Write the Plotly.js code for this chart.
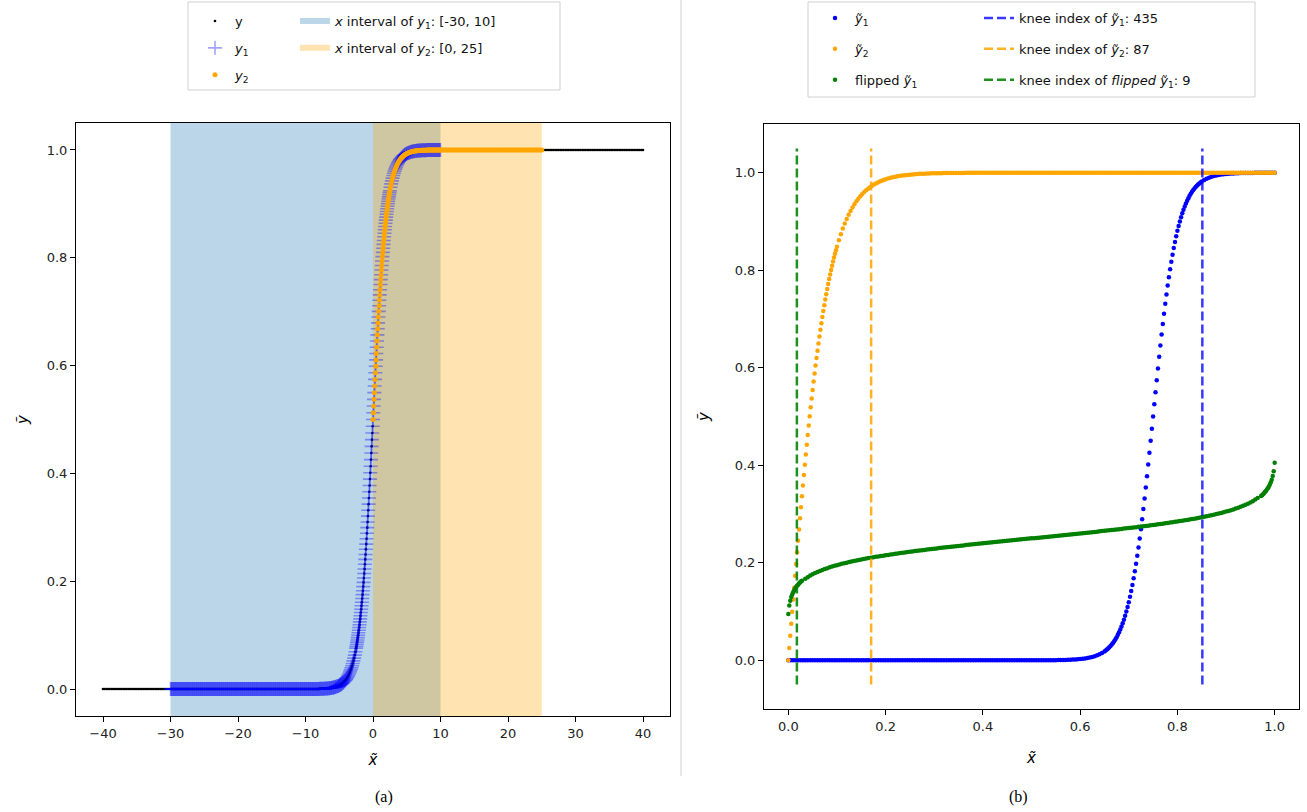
<!DOCTYPE html>
<html><head><meta charset="utf-8">
<script src="https://cdn.plot.ly/plotly-3.0.1.min.js"></script>
<style>html,body{margin:0;padding:0;background:#fff}</style>
</head><body><div id="chart" style="width:1307px;height:812px"></div>
<script>
// ---------- (a) left panel data ----------
const xLeft = [
-40,-39.75,-39.5,-39.25,-39,-38.75,-38.5,-38.25,
-38,-37.75,-37.5,-37.25,-37,-36.75,-36.5,-36.25,
-36,-35.75,-35.5,-35.25,-35,-34.75,-34.5,-34.25,
-34,-33.75,-33.5,-33.25,-33,-32.75,-32.5,-32.25,
-32,-31.75,-31.5,-31.25,-31,-30.75,-30.5,-30.25,
-30,
-29.9,-29.8,-29.7,-29.6,-29.5,-29.4,-29.3,-29.2,-29.1,-29,
-28.9,-28.8,-28.7,-28.6,-28.5,-28.4,-28.3,-28.2,-28.1,-28,
-27.9,-27.8,-27.7,-27.6,-27.5,-27.4,-27.3,-27.2,-27.1,-27,
-26.9,-26.8,-26.7,-26.6,-26.5,-26.4,-26.3,-26.2,-26.1,-26,
-25.9,-25.8,-25.7,-25.6,-25.5,-25.4,-25.3,-25.2,-25.1,-25,
-24.9,-24.8,-24.7,-24.6,-24.5,-24.4,-24.3,-24.2,-24.1,-24,
-23.9,-23.8,-23.7,-23.6,-23.5,-23.4,-23.3,-23.2,-23.1,-23,
-22.9,-22.8,-22.7,-22.6,-22.5,-22.4,-22.3,-22.2,-22.1,-22,
-21.9,-21.8,-21.7,-21.6,-21.5,-21.4,-21.3,-21.2,-21.1,-21,
-20.9,-20.8,-20.7,-20.6,-20.5,-20.4,-20.3,-20.2,-20.1,-20,
-19.9,-19.8,-19.7,-19.6,-19.5,-19.4,-19.3,-19.2,-19.1,-19,
-18.9,-18.8,-18.7,-18.6,-18.5,-18.4,-18.3,-18.2,-18.1,-18,
-17.9,-17.8,-17.7,-17.6,-17.5,-17.4,-17.3,-17.2,-17.1,-17,
-16.9,-16.8,-16.7,-16.6,-16.5,-16.4,-16.3,-16.2,-16.1,-16,
-15.9,-15.8,-15.7,-15.6,-15.5,-15.4,-15.3,-15.2,-15.1,-15,
-14.9,-14.8,-14.7,-14.6,-14.5,-14.4,-14.3,-14.2,-14.1,-14,
-13.9,-13.8,-13.7,-13.6,-13.5,-13.4,-13.3,-13.2,-13.1,-13,
-12.9,-12.8,-12.7,-12.6,-12.5,-12.4,-12.3,-12.2,-12.1,-12,
-11.9,-11.8,-11.7,-11.6,-11.5,-11.4,-11.3,-11.2,-11.1,-11,
-10.9,-10.8,-10.7,-10.6,-10.5,-10.4,-10.3,-10.2,-10.1,-10,
-9.9,-9.8,-9.7,-9.6,-9.5,-9.4,-9.3,-9.2,-9.1,-9,
-8.9,-8.8,-8.7,-8.6,-8.5,-8.4,-8.3,-8.2,-8.1,-8,
-7.9,-7.8,-7.7,-7.6,-7.5,-7.4,-7.3,-7.2,-7.1,-7,
-6.9,-6.8,-6.7,-6.6,-6.5,-6.4,-6.3,-6.2,-6.1,-6,
-5.9,-5.8,-5.7,-5.6,-5.5,-5.4,-5.3,-5.2,-5.1,-5,
-4.9,-4.8,-4.7,-4.6,-4.5,-4.4,-4.3,-4.2,-4.1,
-4,-3.9,-3.8,-3.7,-3.6,-3.5,-3.4,-3.3,-3.2,-3.1,-3,-2.9,-2.8,-2.7,-2.6,
-2.5,-2.45,-2.4,-2.35,-2.3,-2.25,-2.2,-2.15,-2.1,-2.05,
-2,-1.95,-1.9,-1.85,-1.8,-1.75,-1.7,-1.65,-1.6,-1.55,
-1.5,-1.45,-1.4,-1.35,-1.3,-1.25,-1.2,-1.15,-1.1,-1.05,
-1,-0.95,-0.9,-0.85,-0.8,-0.75,-0.7,-0.65,-0.6,-0.55,
-0.5,-0.45,-0.4,-0.35,-0.3,-0.25,-0.2,-0.15,-0.1,-0.05,
0,0.05,0.1,0.15,0.2,0.25,0.3,0.35,0.4,0.45,
0.5,0.55,0.6,0.65,0.7,0.75,0.8,0.85,0.9,0.95,
1,1.05,1.1,1.15,1.2,1.25,1.3,1.35,1.4,1.45,
1.5,1.55,1.6,1.65,1.7,1.75,1.8,1.85,1.9,1.95,
2,2.05,2.1,2.15,2.2,2.25,2.3,2.35,2.4,2.45,
2.5,
2.6,2.7,2.8,2.9,3,3.1,3.2,3.3,3.4,3.5,3.6,3.7,3.8,3.9,4,
4.1,4.2,4.3,4.4,4.5,4.6,4.7,4.8,4.9,5,
5.1,5.2,5.3,5.4,5.5,5.6,5.7,5.8,5.9,6,
6.1,6.2,6.3,6.4,6.5,6.6,6.7,6.8,6.9,7,
7.1,7.2,7.3,7.4,7.5,7.6,7.7,7.8,7.9,8,
8.1,8.2,8.3,8.4,8.5,8.6,8.7,8.8,8.9,9,
9.1,9.2,9.3,9.4,9.5,9.6,9.7,9.8,9.9,10,
10.25,10.5,10.75,11,11.25,11.5,11.75,12,
12.25,12.5,12.75,13,13.25,13.5,13.75,14,
14.25,14.5,14.75,15,15.25,15.5,15.75,16,
16.25,16.5,16.75,17,17.25,17.5,17.75,18,
18.25,18.5,18.75,19,19.25,19.5,19.75,20,
20.25,20.5,20.75,21,21.25,21.5,21.75,22,
22.25,22.5,22.75,23,23.25,23.5,23.75,24,
24.25,24.5,24.75,25,25.25,25.5,25.75,26,
26.25,26.5,26.75,27,27.25,27.5,27.75,28,
28.25,28.5,28.75,29,29.25,29.5,29.75,30,
30.25,30.5,30.75,31,31.25,31.5,31.75,32,
32.25,32.5,32.75,33,33.25,33.5,33.75,34,
34.25,34.5,34.75,35,35.25,35.5,35.75,36,
36.25,36.5,36.75,37,37.25,37.5,37.75,38,
38.25,38.5,38.75,39,39.25,39.5,39.75,40
];
const yLeft = [
0,0,0,0,0,0,0,0, 0,0,0,0,0,0,0,0, 0,0,0,0,0,0,0,0, 0,0,0,0,0,0,0,0, 0,0,0,0,0,0,0,0,
0,
0,0,0,0,0,0,0,0,0,0, 0,0,0,0,0,0,0,0,0,0, 0,0,0,0,0,0,0,0,0,0, 0,0,0,0,0,0,0,0,0,0,
0,0,0,0,0,0,0,0,0,0, 0,0,0,0,0,0,0,0,0,0, 0,0,0,0,0,0,0,0,0,0, 0,0,0,0,0,0,0,0,0,0,
0,0,0,0,0,0,0,0,0,0, 0,0,0,0,0,0,0,0,0,0, 0,0,0,0,0,0,0,0,0,0, 0,0,0,0,0,0,0,0,0,0,
0,0,0,0,0,0,0,0,0,0, 0,0,0,0,0,0,0,0,0,0, 0,0,0,0,0,0,0,0,0,0, 0,0,0,0,0,0,0,0,0,0,
0,0,0,0,0,0,0,0,0,0, 0,0,0,0,0,0,0,0,0,0, 0,0,0,0,0,0,0,0,0,0, 0,0,0,0,0,0,0,0,0,0,
0,0,0,0,0,0,0,0,0,0, 0,0,0,0,0,0,0,0,0,0,
0.0004,0.0004,0.0005,0.0005,0.0006,0.0006,0.0007,0.0007,0.0008,0.0009,
0.0010,0.0011,0.0012,0.0014,0.0015,0.0017,0.0018,0.0020,0.0022,0.0025,
0.0027,0.0030,0.0033,0.0037,0.0041,0.0045,0.0050,0.0055,0.0061,0.0067,
0.0074,0.0082,0.0090,0.0100,0.0110,0.0121,0.0134,0.0148,0.0163,
0.0180,0.0198,0.0219,0.0241,0.0266,0.0293,0.0323,0.0356,0.0392,0.0431,0.0474,0.0522,0.0573,0.0630,0.0691,
0.0759,0.0794,0.0832,0.0871,0.0911,0.0953,0.0998,0.1043,0.1091,0.1141,
0.1192,0.1246,0.1301,0.1359,0.1419,0.1480,0.1545,0.1611,0.1680,0.1751,
0.1824,0.1900,0.1978,0.2059,0.2142,0.2227,0.2315,0.2405,0.2497,0.2592,
0.2689,0.2789,0.2891,0.2994,0.3100,0.3208,0.3318,0.3430,0.3543,0.3659,
0.3775,0.3894,0.4013,0.4134,0.4256,0.4378,0.4502,0.4626,0.4750,0.4875,
0.5,0.5125,0.5250,0.5374,0.5498,0.5622,0.5744,0.5866,0.5987,0.6106,
0.6225,0.6341,0.6457,0.6570,0.6682,0.6792,0.6900,0.7006,0.7109,0.7211,
0.7311,0.7408,0.7503,0.7595,0.7685,0.7773,0.7858,0.7941,0.8022,0.8100,
0.8176,0.8249,0.8320,0.8389,0.8455,0.8520,0.8581,0.8641,0.8699,0.8754,
0.8808,0.8859,0.8909,0.8957,0.9002,0.9047,0.9089,0.9129,0.9168,0.9206,
0.9241,
0.9309,0.9370,0.9427,0.9478,0.9526,0.9569,0.9608,0.9644,0.9677,0.9707,0.9734,0.9759,0.9781,0.9802,0.9820,
0.9837,0.9852,0.9866,0.9879,0.9890,0.9900,0.9910,0.9918,0.9926,0.9933,
0.9939,0.9945,0.9950,0.9955,0.9959,0.9963,0.9967,0.9970,0.9973,0.9975,
0.9978,0.9980,0.9982,0.9983,0.9985,0.9986,0.9988,0.9989,0.9990,0.9991,
0.9992,0.9993,0.9993,0.9994,0.9994,0.9995,0.9995,0.9996,0.9996,0.9997,
1,1,1,1,1,1,1,1,1,1, 1,1,1,1,1,1,1,1,1,1,
1,1,1,1,1,1,1,1, 1,1,1,1,1,1,1,1, 1,1,1,1,1,1,1,1, 1,1,1,1,1,1,1,1, 1,1,1,1,1,1,1,1,
1,1,1,1,1,1,1,1, 1,1,1,1,1,1,1,1, 1,1,1,1,1,1,1,1, 1,1,1,1,1,1,1,1, 1,1,1,1,1,1,1,1,
1,1,1,1,1,1,1,1, 1,1,1,1,1,1,1,1, 1,1,1,1,1,1,1,1, 1,1,1,1,1,1,1,1, 1,1,1,1,1,1,1,1
];
const interval1 = [-30, 10];
const interval2 = [0, 25];
const yRangeLeft = [-0.05, 1.05];

// ---------- (b) right panel data ----------
const xBlue = [
0,0.005,0.01,0.015,0.02,0.025,0.03,0.035,0.04,0.045,
0.05,0.055,0.06,0.065,0.07,0.075,0.08,0.085,0.09,0.095,
0.1,0.105,0.11,0.115,0.12,0.125,0.13,0.135,0.14,0.145,
0.15,0.155,0.16,0.165,0.17,0.175,0.18,0.185,0.19,0.195,
0.2,0.205,0.21,0.215,0.22,0.225,0.23,0.235,0.24,0.245,
0.25,0.255,0.26,0.265,0.27,0.275,0.28,0.285,0.29,0.295,
0.3,0.305,0.31,0.315,0.32,0.325,0.33,0.335,0.34,0.345,
0.35,0.355,0.36,0.365,0.37,0.375,0.38,0.385,0.39,0.395,
0.4,0.405,0.41,0.415,0.42,0.425,0.43,0.435,0.44,0.445,
0.45,0.455,0.46,0.465,0.47,0.475,0.48,0.485,0.49,0.495,
0.5,0.505,0.51,0.515,0.52,0.525,0.53,0.535,0.54,0.545,
0.55,0.555,0.56,0.565,0.57,0.575,0.58,0.585,0.59,0.595,
0.6,0.605,0.61,0.615,0.62,0.625,0.63,0.635,0.64,0.645,
0.65,0.6525,0.655,0.6575,0.66,0.6625,0.665,0.6675,
0.67,0.6725,0.675,0.6775,0.68,0.6825,0.685,0.6875,
0.69,0.6925,0.695,0.6975,0.7,0.7025,0.705,0.7075,
0.71,0.7125,0.715,0.7175,0.72,0.7225,0.725,0.7275,
0.73,0.7325,0.735,0.7375,0.74,0.7425,0.745,0.7475,
0.75,0.7525,0.755,0.7575,0.76,0.7625,0.765,0.7675,
0.77,0.7725,0.775,0.7775,0.78,0.7825,0.785,0.7875,
0.79,0.7925,0.795,0.7975,0.8,0.8025,0.805,0.8075,
0.81,0.8125,0.815,0.8175,0.82,0.8225,0.825,0.8275,
0.83,0.8325,0.835,0.8375,0.84,0.8425,0.845,0.8475,
0.85,
0.855,0.86,0.865,0.87,0.875,0.88,0.885,0.89,0.895,0.9,
0.905,0.91,0.915,0.92,0.925,0.93,0.935,0.94,0.945,0.95,
0.955,0.96,0.965,0.97,0.975,0.98,0.985,0.99,0.995,1
];
const yBlue = [
0,0,0,0,0,0,0,0,0,0, 0,0,0,0,0,0,0,0,0,0, 0,0,0,0,0,0,0,0,0,0,
0,0,0,0,0,0,0,0,0,0, 0,0,0,0,0,0,0,0,0,0, 0,0,0,0,0,0,0,0,0,0,
0,0,0,0,0,0,0,0,0,0, 0,0,0,0,0,0,0,0,0,0, 0,0,0,0,0,0,0,0,0,0,
0,0,0,0,0,0,0,0,0,0, 0,0,0,0,0,0,0,0,0,0,
0,0.0004,0.0005,0.0006,0.0007,0.0009,0.0011,0.0014,0.0017,0.0020,
0.0025,0.0030,0.0037,0.0045,0.0055,0.0067,0.0082,0.0100,0.0121,0.0148,
0.0180,0.0198,0.0219,0.0241,0.0266,0.0293,0.0323,0.0356,
0.0392,0.0431,0.0474,0.0522,0.0573,0.0630,0.0691,0.0759,
0.0832,0.0911,0.0998,0.1091,0.1192,0.1301,0.1419,0.1545,
0.1680,0.1824,0.1978,0.2142,0.2315,0.2497,0.2689,0.2891,
0.3100,0.3318,0.3543,0.3775,0.4013,0.4256,0.4502,0.4750,
0.5,0.5250,0.5498,0.5744,0.5987,0.6225,0.6457,0.6682,
0.6900,0.7109,0.7311,0.7503,0.7685,0.7858,0.8022,0.8176,
0.8320,0.8455,0.8581,0.8699,0.8808,0.8909,0.9002,0.9089,
0.9168,0.9241,0.9309,0.9370,0.9427,0.9478,0.9526,0.9569,
0.9608,0.9644,0.9677,0.9707,0.9734,0.9759,0.9781,0.9802,
0.9820,
0.9852,0.9879,0.9900,0.9918,0.9933,0.9945,0.9955,0.9963,0.9970,0.9975,
0.9980,0.9983,0.9986,0.9989,0.9991,0.9993,0.9994,0.9995,0.9996,0.9997,
0.9997,0.9998,0.9998,0.9998,0.9999,0.9999,0.9999,0.9999,0.9999,1
];
const xOrange = [
0,0.002,0.004,0.006,0.008,0.01,0.012,0.014,0.016,0.018,
0.02,0.022,0.024,0.026,0.028,0.03,0.032,0.034,0.036,0.038,
0.04,0.042,0.044,0.046,0.048,0.05,0.052,0.054,0.056,0.058,
0.06,0.062,0.064,0.066,0.068,0.07,0.072,0.074,0.076,0.078,
0.08,0.082,0.084,0.086,0.088,0.09,0.092,0.094,0.096,0.098,
0.1,
0.104,0.108,0.112,0.116,0.12,0.124,0.128,0.132,0.136,0.14,
0.144,0.148,0.152,0.156,0.16,0.164,0.168,0.172,0.176,0.18,
0.184,0.188,0.192,0.196,0.2,
0.205,0.21,0.215,0.22,0.225,0.23,0.235,0.24,0.245,0.25,
0.255,0.26,0.265,0.27,0.275,0.28,0.285,0.29,0.295,0.3,
0.305,0.31,0.315,0.32,0.325,0.33,0.335,0.34,0.345,0.35,
0.355,0.36,0.365,0.37,0.375,0.38,0.385,0.39,0.395,0.4,
0.405,0.41,0.415,0.42,0.425,0.43,0.435,0.44,0.445,0.45,
0.455,0.46,0.465,0.47,0.475,0.48,0.485,0.49,0.495,0.5,
0.505,0.51,0.515,0.52,0.525,0.53,0.535,0.54,0.545,0.55,
0.555,0.56,0.565,0.57,0.575,0.58,0.585,0.59,0.595,0.6,
0.605,0.61,0.615,0.62,0.625,0.63,0.635,0.64,0.645,0.65,
0.655,0.66,0.665,0.67,0.675,0.68,0.685,0.69,0.695,0.7,
0.705,0.71,0.715,0.72,0.725,0.73,0.735,0.74,0.745,0.75,
0.755,0.76,0.765,0.77,0.775,0.78,0.785,0.79,0.795,0.8,
0.805,0.81,0.815,0.82,0.825,0.83,0.835,0.84,0.845,0.85,
0.855,0.86,0.865,0.87,0.875,0.88,0.885,0.89,0.895,0.9,
0.905,0.91,0.915,0.92,0.925,0.93,0.935,0.94,0.945,0.95,
0.955,0.96,0.965,0.97,0.975,0.98,0.985,0.99,0.995,1
];
const yOrange = [
0,0.0250,0.0500,0.0749,0.0997,0.1244,0.1489,0.1732,0.1974,0.2213,
0.2449,0.2683,0.2913,0.3140,0.3364,0.3584,0.3799,0.4011,0.4219,0.4422,
0.4621,0.4816,0.5005,0.5190,0.5371,0.5546,0.5717,0.5883,0.6044,0.6200,
0.6351,0.6498,0.6640,0.6778,0.6911,0.7039,0.7163,0.7283,0.7398,0.7509,
0.7616,0.7719,0.7818,0.7913,0.8005,0.8093,0.8178,0.8259,0.8337,0.8411,
0.8483,
0.8617,0.8741,0.8854,0.8957,0.9051,0.9138,0.9217,0.9289,0.9354,0.9414,
0.9468,0.9517,0.9562,0.9603,0.9640,0.9674,0.9705,0.9732,0.9757,0.9780,
0.9801,0.9820,0.9837,0.9852,0.9866,
0.9882,0.9896,0.9908,0.9919,0.9928,0.9937,0.9944,0.9951,0.9956,0.9961,
0.9966,0.9970,0.9973,0.9977,0.9979,0.9982,0.9984,0.9986,0.9988,0.9989,
0.9990,0.9991,0.9992,0.9993,0.9994,0.9995,0.9995,0.9996,0.9996,0.9997,
0.9997,0.9997,0.9998,0.9998,0.9998,0.9998,0.9999,0.9999,0.9999,0.9999,
1,1,1,1,1,1,1,1,1,1, 1,1,1,1,1,1,1,1,1,1, 1,1,1,1,1,1,1,1,1,1,
1,1,1,1,1,1,1,1,1,1, 1,1,1,1,1,1,1,1,1,1, 1,1,1,1,1,1,1,1,1,1,
1,1,1,1,1,1,1,1,1,1, 1,1,1,1,1,1,1,1,1,1, 1,1,1,1,1,1,1,1,1,1,
1,1,1,1,1,1,1,1,1,1, 1,1,1,1,1,1,1,1,1,1, 1,1,1,1,1,1,1,1,1,1
];
const xGreen = [
0,0.002,0.004,0.006,0.008,0.01,0.012,0.014,0.016,0.018,0.02,0.022,0.024,0.026,0.028,
0.035,0.04,0.045,0.05,0.055,0.06,0.065,0.07,0.075,0.08,
0.085,0.09,0.095,0.1,0.105,0.11,0.115,0.12,0.125,0.13,
0.135,0.14,0.145,0.15,0.155,0.16,0.165,0.17,0.175,0.18,
0.185,0.19,0.195,0.2,0.205,0.21,0.215,0.22,0.225,0.23,
0.235,0.24,0.245,0.25,0.255,0.26,0.265,0.27,0.275,0.28,
0.285,0.29,0.295,0.3,0.305,0.31,0.315,0.32,0.325,0.33,
0.335,0.34,0.345,0.35,0.355,0.36,0.365,0.37,0.375,0.38,
0.385,0.39,0.395,0.4,0.405,0.41,0.415,0.42,0.425,0.43,
0.435,0.44,0.445,0.45,0.455,0.46,0.465,0.47,0.475,0.48,
0.485,0.49,0.495,0.5,0.505,0.51,0.515,0.52,0.525,0.53,
0.535,0.54,0.545,0.55,0.555,0.56,0.565,0.57,0.575,0.58,
0.585,0.59,0.595,0.6,0.605,0.61,0.615,0.62,0.625,0.63,
0.635,0.64,0.645,0.65,0.655,0.66,0.665,0.67,0.675,0.68,
0.685,0.69,0.695,0.7,0.705,0.71,0.715,0.72,0.725,0.73,
0.735,0.74,0.745,0.75,0.755,0.76,0.765,0.77,0.775,0.78,
0.785,0.79,0.795,0.8,0.805,0.81,0.815,0.82,0.825,0.83,
0.835,0.84,0.845,0.85,0.855,0.86,0.865,0.87,0.875,0.88,
0.885,0.89,0.895,0.9,0.905,0.91,0.915,0.92,0.925,0.93,
0.935,0.94,0.945,0.95,0.955,0.96,0.965,
0.972,0.974,0.976,0.978,0.98,0.982,0.984,0.986,0.988,0.99,0.992,0.994,0.996,0.998,1
];
const yGreen = [
0.0947,0.1121,0.1222,0.1295,0.1351,0.1397,0.1436,0.1470,0.1500,0.1527,0.1551,0.1574,0.1594,0.1613,0.1631,
0.1671,0.1705,0.1736,0.1764,0.1789,0.1812,0.1833,0.1853,0.1872,0.1889,
0.1906,0.1922,0.1937,0.1951,0.1964,0.1977,0.1990,0.2002,0.2014,0.2025,
0.2036,0.2046,0.2056,0.2066,0.2076,0.2085,0.2095,0.2104,0.2112,0.2121,
0.2129,0.2138,0.2146,0.2153,0.2161,0.2169,0.2176,0.2184,0.2191,0.2198,
0.2205,0.2212,0.2219,0.2225,0.2232,0.2239,0.2245,0.2251,0.2258,0.2264,
0.2270,0.2276,0.2282,0.2288,0.2294,0.2300,0.2306,0.2312,0.2317,0.2323,
0.2329,0.2334,0.2340,0.2345,0.2351,0.2356,0.2362,0.2367,0.2372,0.2378,
0.2383,0.2388,0.2393,0.2399,0.2404,0.2409,0.2414,0.2419,0.2424,0.2430,
0.2435,0.2440,0.2445,0.2450,0.2455,0.2460,0.2465,0.2470,0.2475,0.2480,
0.2485,0.2490,0.2495,0.2500,0.2505,0.2510,0.2515,0.2520,0.2525,0.2530,
0.2535,0.2540,0.2545,0.2550,0.2555,0.2560,0.2565,0.2570,0.2576,0.2581,
0.2586,0.2591,0.2596,0.2601,0.2607,0.2612,0.2617,0.2622,0.2628,0.2633,
0.2638,0.2644,0.2649,0.2655,0.2660,0.2666,0.2671,0.2677,0.2683,0.2688,
0.2694,0.2700,0.2706,0.2712,0.2718,0.2724,0.2730,0.2736,0.2742,0.2749,
0.2755,0.2761,0.2768,0.2775,0.2781,0.2788,0.2795,0.2802,0.2809,0.2816,
0.2824,0.2831,0.2839,0.2847,0.2854,0.2862,0.2871,0.2879,0.2888,0.2896,
0.2905,0.2915,0.2924,0.2934,0.2944,0.2954,0.2964,0.2975,0.2986,0.2998,
0.3010,0.3023,0.3036,0.3049,0.3063,0.3078,0.3094,0.3111,0.3128,0.3147,
0.3167,0.3188,0.3211,0.3236,0.3264,0.3295,0.3329,
0.3369,0.3387,0.3406,0.3426,0.3449,0.3473,0.3500,0.3530,0.3564,0.3603,0.3649,0.3705,0.3778,0.3879,0.4053
];
const kneeIdx = [435, 87, 9];
const nPoints = 512;
const kneeSeries = ['<i>ỹ</i><sub>1</sub>', '<i>ỹ</i><sub>2</sub>', '<i>flipped</i> <i>ỹ</i><sub>1</sub>'];
const kneeColors = ['rgba(0,0,255,0.78)', 'rgba(255,165,0,0.85)', 'rgba(0,128,0,0.88)'];
const vlineY = [-0.05, 1.05];
const yRangeRight = [-0.1, 1.1];

// ---------- build traces ----------
function inInt(iv){ const xs=[], ys=[]; xLeft.forEach((v,i)=>{ if(v>=iv[0] && v<=iv[1]){ xs.push(v); ys.push(yLeft[i]); } }); return [xs, ys]; }
const [x1, y1] = inInt(interval1);
const [x2, y2] = inInt(interval2);
function spanTrace(iv, color, label, grp){
  return {x:[iv[0],iv[0],iv[1],iv[1],iv[0]], y:[yRangeLeft[0],yRangeLeft[1],yRangeLeft[1],yRangeLeft[0],yRangeLeft[0]],
    type:'scatter', mode:'none', fill:'toself', fillcolor:color, name:label, legend:'legend2', legendgroup:grp,
    hoverinfo:'skip', xaxis:'x', yaxis:'y'};
}
const traces = [
  spanTrace(interval1, 'rgba(31,119,180,0.3)', '<i>x</i> interval of <i>y</i><sub>1</sub>: [' + interval1.join(', ') + ']', 's1'),
  spanTrace(interval2, 'rgba(255,165,0,0.3)', '<i>x</i> interval of <i>y</i><sub>2</sub>: [' + interval2.join(', ') + ']', 's2'),
  {x:xLeft, y:yLeft, type:'scatter', mode:'markers', name:'y', legend:'legend', legendgroup:'a',
   marker:{size:2.6, color:'#000'}, xaxis:'x', yaxis:'y'},
  {x:x1, y:y1, type:'scatter', mode:'markers', name:'<i>y</i><sub>1</sub>', legend:'legend', legendgroup:'b',
   marker:{symbol:'cross-thin', size:10, color:'rgba(0,0,255,0.36)', line:{width:1.6, color:'rgba(0,0,255,0.36)'}}, xaxis:'x', yaxis:'y'},
  {x:x2, y:y2, type:'scatter', mode:'markers', name:'<i>y</i><sub>2</sub>', legend:'legend', legendgroup:'c',
   marker:{size:5, color:'#ffa500'}, xaxis:'x', yaxis:'y'},
  {x:xBlue, y:yBlue, type:'scatter', mode:'markers', name:kneeSeries[0], legend:'legend3', legendgroup:'d',
   marker:{size:4.5, color:'#0000ff'}, xaxis:'x2', yaxis:'y2'},
  {x:xOrange, y:yOrange, type:'scatter', mode:'markers', name:kneeSeries[1], legend:'legend3', legendgroup:'e',
   marker:{size:4.5, color:'#ffa500'}, xaxis:'x2', yaxis:'y2'},
  {x:xGreen, y:yGreen, type:'scatter', mode:'markers', name:'flipped <i>ỹ</i><sub>1</sub>', legend:'legend3', legendgroup:'f',
   marker:{size:4.5, color:'#008000'}, xaxis:'x2', yaxis:'y2'}
];
kneeIdx.forEach((k,i)=>{
  const xv = k/(nPoints-1);
  traces.push({x:[xv,xv], y:vlineY, type:'scatter', mode:'lines', name:'knee index of ' + kneeSeries[i] + ': ' + k,
    legend:'legend4', legendgroup:'k'+i, line:{color:kneeColors[i], width:2.5, dash:'9px,4px'}, xaxis:'x2', yaxis:'y2'});
});

const W=1307, H=812;
const px = v => v/W, py = v => 1 - v/H;
const axCommon = {showline:true, mirror:true, linecolor:'#000', linewidth:1, ticks:'outside', ticklen:5, tickwidth:1,
  tickcolor:'#000', showgrid:false, zeroline:false, tickfont:{size:13, color:'#222'}};
const legCommon = {xanchor:'left', yanchor:'top', bgcolor:'rgba(0,0,0,0)', borderwidth:0, traceorder:'grouped',
  font:{size:13, color:'#111'}, orientation:'v'};
const layout = {
  width:W, height:H, margin:{l:0,r:0,t:0,b:0}, paper_bgcolor:'#fff', plot_bgcolor:'#fff',
  font:{family:'DejaVu Sans, sans-serif', size:13, color:'#000'}, showlegend:true, hovermode:false,
  xaxis:Object.assign({}, axCommon, {domain:[px(76),px(670)], range:[-44,44], dtick:10, tick0:0, anchor:'y',
    title:{text:'<i>x̃</i>', font:{size:15}, standoff:14}}),
  yaxis:Object.assign({}, axCommon, {domain:[py(716),py(123)], range:yRangeLeft, dtick:0.2, tick0:0, tickformat:'.1f', anchor:'x',
    title:{text:'<i>ỹ</i>', font:{size:15}, standoff:14}}),
  xaxis2:Object.assign({}, axCommon, {domain:[px(764),px(1299)], range:[-0.05,1.05], dtick:0.2, tick0:0, tickformat:'.1f', anchor:'y2',
    title:{text:'<i>x̃</i>', font:{size:15}, standoff:19}}),
  yaxis2:Object.assign({}, axCommon, {domain:[py(709),py(124)], range:yRangeRight, dtick:0.2, tick0:0, tickformat:'.1f', anchor:'x2',
    title:{text:'<i>ỹ</i>', font:{size:15}, standoff:21}}),
  legend:Object.assign({}, legCommon, {x:px(195), y:py(6), tracegroupgap:7}),
  legend2:Object.assign({}, legCommon, {x:px(295), y:py(6), tracegroupgap:7}),
  legend3:Object.assign({}, legCommon, {x:px(815), y:py(3), tracegroupgap:11}),
  legend4:Object.assign({}, legCommon, {x:px(979), y:py(3), tracegroupgap:11}),
  shapes:[
    {type:'rect', xref:'paper', yref:'paper', x0:px(188), x1:px(560), y0:py(90), y1:py(2), line:{color:'#d0d0d0', width:1}, fillcolor:'rgba(255,255,255,0.8)', layer:'below'},
    {type:'rect', xref:'paper', yref:'paper', x0:px(808), x1:px(1255), y0:py(97), y1:py(2), line:{color:'#d0d0d0', width:1}, fillcolor:'rgba(255,255,255,0.8)', layer:'below'},
    {type:'line', xref:'paper', yref:'paper', x0:px(681), x1:px(681), y0:py(776), y1:1, line:{color:'#cfcfcf', width:1}}
  ],
  annotations:[
    {text:'(a)', xref:'paper', yref:'paper', x:px(373), y:py(797), yanchor:'middle', showarrow:false, font:{family:'Liberation Serif, serif', size:16, color:'#000'}},
    {text:'(b)', xref:'paper', yref:'paper', x:px(1030), y:py(797), yanchor:'middle', showarrow:false, font:{family:'Liberation Serif, serif', size:16, color:'#000'}}
  ]
};
Plotly.newPlot('chart', traces, layout, {displayModeBar:false, staticPlot:true});
</script></body></html>
